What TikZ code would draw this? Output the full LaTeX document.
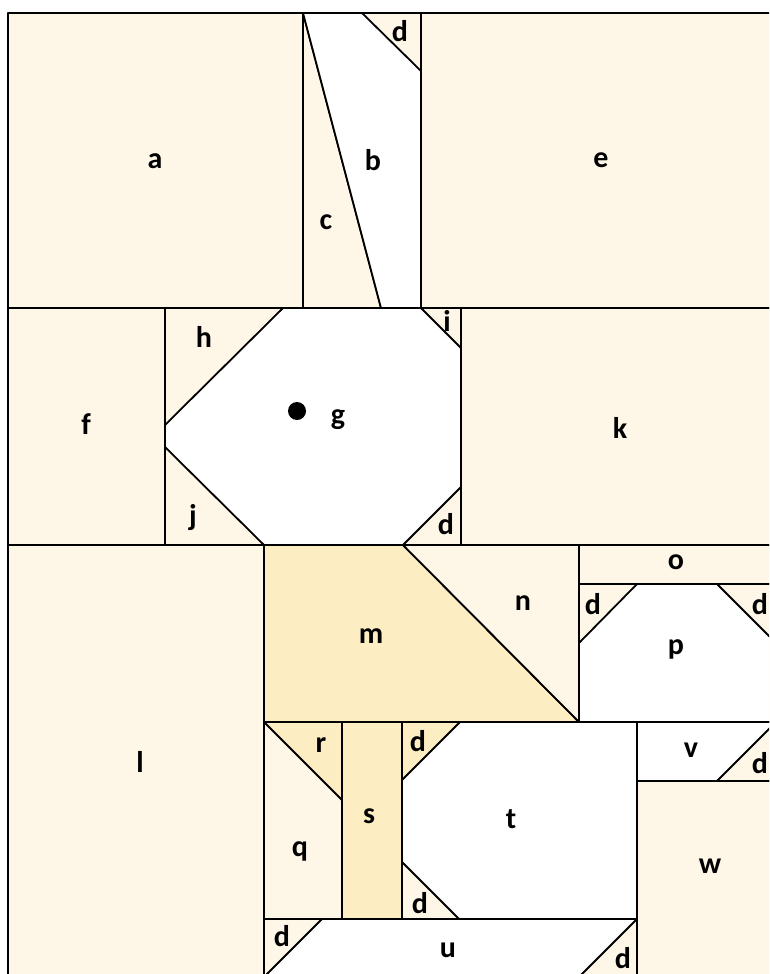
\documentclass[tikz,border=0pt]{standalone}
\usepackage{fontspec}
\setmainfont{Carlito}[BoldFont={Carlito Bold}]
\newcommand{\labfont}{\fontsize{30}{32}\selectfont\bfseries}
\definecolor{cream}{HTML}{FEF7E8}
\definecolor{yel}{HTML}{FDEDC3}
\begin{document}
\begin{tikzpicture}[x=1pt,y=-1pt,
  piece/.style={draw=black,line width=1.8pt,line join=bevel},
  cr/.style={piece,fill=cream},
  wh/.style={piece,fill=white},
  ye/.style={piece,fill=yel},
  lab/.style={font=\labfont,inner sep=0pt}]
\useasboundingbox (0,0) rectangle (769,974);
\clip (0,0) rectangle (769,974);
\fill[white] (0,0) rectangle (769,974);
% row 1
\draw[cr] (8,13) rectangle (303,308);
\draw[cr] (303,13) -- (381,308) -- (303,308) -- cycle;
\draw[wh] (303,13) -- (421,13) -- (421,308) -- (381,308) -- cycle;
\draw[cr] (362,13) -- (421,13) -- (421,71) -- cycle;
\draw[cr] (421,13) rectangle (800,308);
% row 2
\draw[cr] (8,308) rectangle (165,545);
\draw[cr] (165,308) rectangle (461,545);
\draw[wh] (283,308) -- (421,308) -- (461,348) -- (461,487) -- (403,545) -- (264,545) -- (165,447) -- (165,425) -- cycle;
\draw[cr] (461,308) rectangle (800,545);
\fill (297,411) circle (9);
% row 3
\draw[cr] (8,545) rectangle (264,1000);
\draw[ye] (264,545) -- (403,545) -- (579,722) -- (264,722) -- cycle;
\draw[cr] (403,545) -- (579,545) -- (579,722) -- cycle;
\draw[cr] (579,545) rectangle (800,584);
\draw[cr] (579,584) rectangle (800,722);
\draw[wh] (637,584) -- (717,584) -- (800,667) -- (800,722) -- (579,722) -- (579,643) -- cycle;
\draw[wh] (637,722) rectangle (800,781);
\draw[cr] (717,781) -- (776,722) -- (800,722) -- (800,781) -- cycle;
\draw[cr] (637,781) rectangle (800,1000);
% row 4
\draw[cr] (264,722) rectangle (342,919);
\draw[ye] (264,722) -- (342,722) -- (342,800) -- cycle;
\draw[ye] (342,722) rectangle (402,919);
\draw[wh] (402,722) rectangle (637,919);
\draw[ye] (402,722) -- (460,722) -- (402,780) -- cycle;
\draw[cr] (402,862) -- (459,919) -- (402,919) -- cycle;
\draw[wh] (264,919) rectangle (637,1000);
\draw[cr] (264,919) -- (322,919) -- (264,977) -- cycle;
\draw[cr] (637,919) -- (637,1000) -- (556,1000) -- cycle;
% labels
\node[lab] (la) at (155,161) {a};
\node[lab] (lb) at (373,160) {b};
\node[lab] (lc) at (326,222) {c};
\node[lab] (ld1) at (400,31) {d};
\node[lab] (le) at (601,160) {e};
\node[lab] (lf) at (86,424) {f};
\node[lab] (lh) at (204,337) {h};
\node[lab] (lg) at (338,420) {g};
\node[lab] (li) at (447,321) {i};
\node[lab] (lj) at (193,518) {j};
\node[lab] (ld2) at (446,524) {d};
\node[lab] (lk) at (620,428) {k};
\node[lab] (ll) at (140,762) {l};
\node[lab] (lm) at (371,636) {m};
\node[lab] (ln) at (523,603) {n};
\node[lab] (lo) at (676,562) {o};
\node[lab] (lp) at (676,649) {p};
\node[lab] (ld3) at (593,604) {d};
\node[lab] (ld4) at (760,604) {d};
\node[lab] (lv) at (691,750) {v};
\node[lab] (ld5) at (760,763) {d};
\node[lab] (lr) at (321,745) {r};
\node[lab] (ls) at (369,816) {s};
\node[lab] (ld6) at (418,741) {d};
\node[lab] (lt) at (511,819) {t};
\node[lab] (lq) at (300,851) {q};
\node[lab] (ld7) at (420,903) {d};
\node[lab] (lw) at (710,866) {w};
\node[lab] (lu) at (448,950) {u};
\node[lab] (ld8) at (282,936) {d};
\node[lab] (ld9) at (623,958) {d};
\end{tikzpicture}
\end{document}
